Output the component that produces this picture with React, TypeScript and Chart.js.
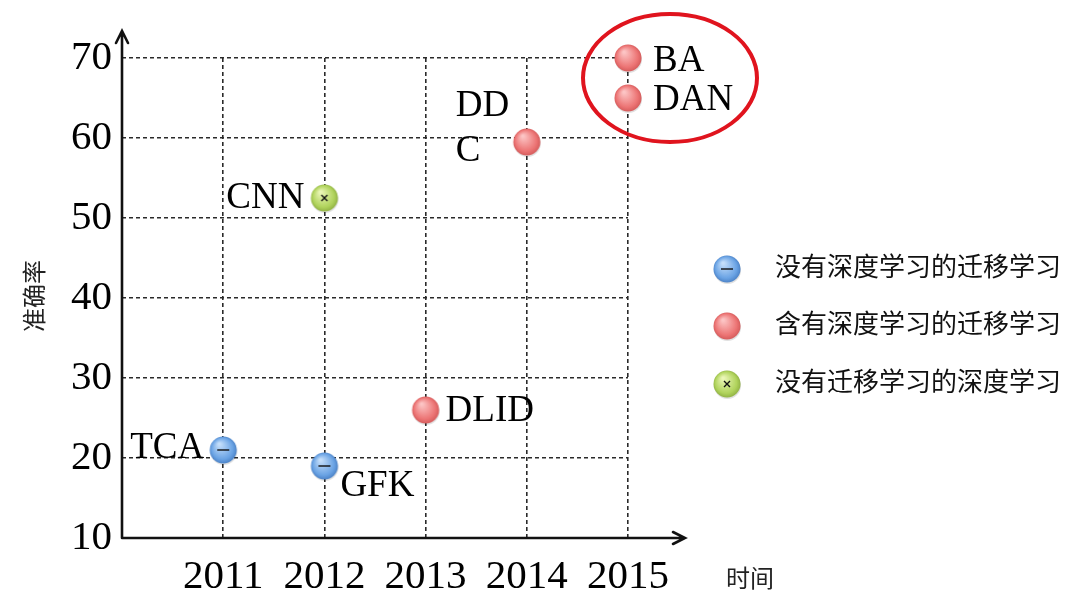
import React, { useEffect, useRef } from "react";
import { Chart, registerables, Plugin } from "chart.js";

Chart.register(...registerables);

// series names (legend)
const seriesNames = [
  "没有深度学习的迁移学习",
  "含有深度学习的迁移学习",
  "没有迁移学习的深度学习",
];

// transfer learning without deep learning
const blueYears = [2011, 2012];
const blueAcc = [21, 19];
const blueNames = ["TCA", "GFK"];

// transfer learning with deep learning
const redYears = [2013, 2014, 2015, 2015];
const redAcc = [26, 59.5, 70, 65];
const redNames = ["DLID", "DD\nC", "BA", "DAN"];

// deep learning without transfer
const greenYears = [2012];
const greenAcc = [52.5];
const greenNames = ["CNN"];

const xMin = 2010;
const xMax = 2015;
const yMin = 10;
const yMax = 70;
const yStep = 10;

const xTitle = "时间";
const yTitle = "准确率";

const SERIF = '"Liberation Serif", "Times New Roman", serif';
const CJK = '"Noto Sans CJK SC", "Noto Sans", sans-serif';

// where each point label sits relative to its point (px)
const labelPlace: Record<string, { dx: number; dy: number; align: CanvasTextAlign }> = {
  TCA: { dx: -19, dy: -2, align: "right" },
  GFK: { dx: 16, dy: 20, align: "left" },
  DLID: { dx: 20, dy: 1, align: "left" },
  "DD\nC": { dx: -71, dy: -36, align: "left" },
  BA: { dx: 25, dy: 3, align: "left" },
  DAN: { dx: 25, dy: 2, align: "left" },
  CNN: { dx: -20, dy: 0, align: "right" },
};

type Kind = "blue" | "red" | "green";

function makeMarker(kind: Kind): HTMLCanvasElement {
  const c = document.createElement("canvas");
  c.width = 32;
  c.height = 32;
  const g = c.getContext("2d")!;
  const cols = {
    blue: ["#c4defa", "#6aa3e4", "#4a80c4"],
    red: ["#fcc4c4", "#ec7474", "#d35a5a"],
    green: ["#eaf6b6", "#b0d35c", "#8fb043"],
  }[kind];
  // soft shadow
  g.beginPath();
  g.arc(16.5, 17.5, 13.5, 0, Math.PI * 2);
  g.fillStyle = "rgba(0,0,0,0.12)";
  g.fill();
  const grad = g.createRadialGradient(12, 10, 1, 16, 16, 14);
  grad.addColorStop(0, cols[0]);
  grad.addColorStop(0.75, cols[1]);
  grad.addColorStop(1, cols[2]);
  g.beginPath();
  g.arc(16, 16, 13.5, 0, Math.PI * 2);
  g.fillStyle = grad;
  g.fill();
  g.strokeStyle = "#111";
  g.lineWidth = 1.4;
  if (kind === "blue") {
    g.beginPath();
    g.moveTo(10, 16);
    g.lineTo(22, 16);
    g.stroke();
  } else if (kind === "green") {
    g.beginPath();
    g.moveTo(13, 13);
    g.lineTo(19, 19);
    g.moveTo(19, 13);
    g.lineTo(13, 19);
    g.stroke();
  }
  return c;
}

const App: React.FC = () => {
  const canvasRef = useRef<HTMLCanvasElement>(null);
  const chartRef = useRef<Chart<"scatter"> | null>(null);

  useEffect(() => {
    if (!canvasRef.current) return;
    const ctx = canvasRef.current.getContext("2d");
    if (!ctx) return;
    if (chartRef.current) chartRef.current.destroy();

    const markers = [makeMarker("blue"), makeMarker("red"), makeMarker("green")];
    const names = [blueNames, redNames, greenNames];

    const toPoints = (xs: number[], ys: number[]) => xs.map((x, i) => ({ x, y: ys[i] }));

    // axes with open arrowheads
    const axesPlugin: Plugin<"scatter"> = {
      id: "arrowAxes",
      beforeDatasetsDraw(chart) {
        const { ctx: c, chartArea: a } = chart;
        c.save();
        c.strokeStyle = "#111";
        c.lineWidth = 2.6;
        c.lineCap = "round";
        c.beginPath();
        c.moveTo(a.left, a.bottom);
        c.lineTo(a.left, 31);
        c.moveTo(a.left - 6, 43);
        c.lineTo(a.left, 31);
        c.lineTo(a.left + 6, 43);
        c.moveTo(a.left, a.bottom);
        c.lineTo(685, a.bottom);
        c.moveTo(673, a.bottom - 6);
        c.lineTo(685, a.bottom);
        c.lineTo(673, a.bottom + 6);
        c.stroke();
        c.restore();
      },
    };

    const decorPlugin: Plugin<"scatter"> = {
      id: "decor",
      afterDraw(chart) {
        const { ctx: c } = chart;
        const xs = chart.scales.x;
        const ys = chart.scales.y;
        c.save();

        // point labels
        c.fillStyle = "#000";
        c.font = `37px ${SERIF}`;
        c.textBaseline = "middle";
        chart.data.datasets.forEach((_, di) => {
          const meta = chart.getDatasetMeta(di);
          meta.data.forEach((el, i) => {
            const txt = names[di][i];
            const p = labelPlace[txt] || { dx: 20, dy: 0, align: "left" };
            const { x, y } = el.getProps(["x", "y"], true) as { x: number; y: number };
            c.textAlign = p.align;
            txt.split("\n").forEach((line, li) => {
              c.fillText(line, x + p.dx, y + p.dy + li * 45);
            });
          });
        });

        // red ellipse around BA / DAN
        const cx = xs.getPixelForValue(2015) + 42;
        const cy = ys.getPixelForValue(67.5);
        c.beginPath();
        c.ellipse(cx, cy, 87, 64, 0, 0, Math.PI * 2);
        c.strokeStyle = "#e0141e";
        c.lineWidth = 4;
        c.stroke();

        // legend
        const rows = [269, 326, 384];
        c.font = `26px ${CJK}`;
        c.fillStyle = "#111";
        c.textAlign = "left";
        chart.data.datasets.forEach((ds, di) => {
          const m = markers[di];
          c.drawImage(m, 727 - 16, rows[di] - 16);
          c.fillText(String(ds.label), 775, rows[di] - 3);
        });

        // axis titles
        c.font = `24px ${CJK}`;
        c.fillStyle = "#222";
        c.fillText(xTitle, 726, 578);
        c.translate(34, 296);
        c.rotate(-Math.PI / 2);
        c.textAlign = "center";
        c.fillText(yTitle, 0, 0);
        c.restore();
      },
    };

    chartRef.current = new Chart(ctx, {
      type: "scatter",
      data: {
        datasets: [
          { label: seriesNames[0], data: toPoints(blueYears, blueAcc), pointStyle: markers[0] },
          { label: seriesNames[1], data: toPoints(redYears, redAcc), pointStyle: markers[1] },
          { label: seriesNames[2], data: toPoints(greenYears, greenAcc), pointStyle: markers[2] },
        ],
      },
      options: {
        responsive: false,
        animation: false,
        events: [],
        layout: { padding: { top: 58, right: 452, left: 0, bottom: 0 } },
        plugins: {
          legend: { display: false },
          tooltip: { enabled: false },
        },
        datasets: { scatter: { clip: false } as any },
        scales: {
          x: {
            type: "linear",
            min: xMin,
            max: xMax,
            afterFit: (s) => {
              s.height = 70;
            },
            border: { display: false, dash: [4, 3] },
            grid: {
              color: "#2a2a2a",
              lineWidth: 1.6,
              drawTicks: false,
            },
            ticks: {
              stepSize: 1,
              autoSkip: false,
              maxRotation: 0,
              padding: 15,
              color: "#000",
              font: { family: SERIF, size: 41 },
              callback: (v) => (Number(v) === xMin ? "" : String(v)),
            },
          },
          y: {
            type: "linear",
            min: yMin,
            max: yMax,
            afterFit: (s) => {
              s.width = 122;
            },
            border: { display: false, dash: [4, 3] },
            grid: {
              color: "#2a2a2a",
              lineWidth: 1.6,
              drawTicks: false,
            },
            ticks: {
              stepSize: yStep,
              padding: 10,
              color: "#000",
              font: { family: SERIF, size: 41 },
            },
          },
        },
      },
      plugins: [axesPlugin, decorPlugin],
    });

    return () => {
      if (chartRef.current) {
        chartRef.current.destroy();
        chartRef.current = null;
      }
    };
  }, []);

  return (
    <div style={{ position: "absolute", left: 0, top: 0, width: 1080, height: 608, background: "#fff" }}>
      <canvas ref={canvasRef} width={1080} height={608} style={{ display: "block" }} />
    </div>
  );
};

export default App;
